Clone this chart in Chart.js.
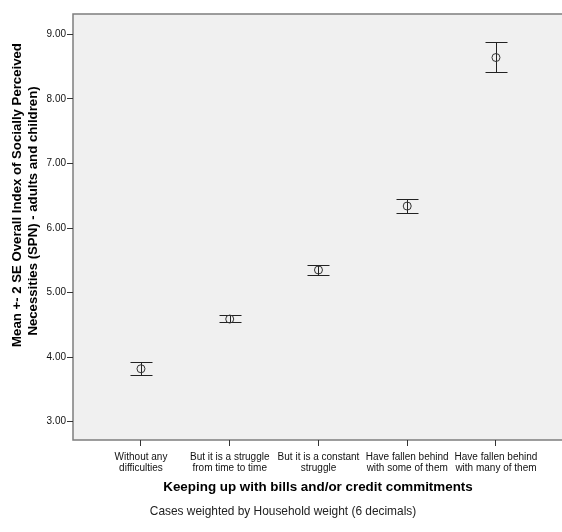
<!DOCTYPE html>
<html>
<head>
<meta charset="utf-8">
<script src="https://cdn.jsdelivr.net/npm/chart.js@4/dist/chart.umd.min.js"></script>
<style>
html,body{margin:0;padding:0;background:#fff;}
canvas{display:block;}
</style>
</head>
<body>
<canvas id="c" width="562" height="532"></canvas>
<script>
const categories = [
  ["Without any", "difficulties"],
  ["But it is a struggle", "from time to time"],
  ["But it is a constant", "struggle"],
  ["Have fallen behind", "with some of them"],
  ["Have fallen behind", "with many of them"]
];
const meanValues  = [3.82, 4.59, 5.35, 6.34, 8.64];
const upperValues = [3.925, 4.648, 5.422, 6.445, 8.876];
const lowerValues = [3.724, 4.540, 5.277, 6.237, 8.411];
const yTickValues = [3, 4, 5, 6, 7, 8, 9];
const yTitleLines = ["Mean +- 2 SE Overall Index of Socially Perceived", "Necessities (SPN) - adults and children)"];
const xTitle = "Keeping up with bills and/or credit commitments";
const caption = "Cases weighted by Household weight (6 decimals)";

const FONT = '"Liberation Sans", Arial, sans-serif';

const framePlugin = {
  id: 'frame',
  beforeDraw(chart) {
    const {ctx, chartArea: a} = chart;
    ctx.save();
    ctx.fillStyle = '#F0F0F0';
    ctx.fillRect(a.left, a.top, a.right - a.left + 4, a.bottom - a.top);
    ctx.strokeStyle = '#7d7d7d';
    ctx.lineWidth = 1.5;
    ctx.beginPath();
    ctx.moveTo(a.right + 4, a.top);
    ctx.lineTo(a.left, a.top);
    ctx.lineTo(a.left, a.bottom);
    ctx.lineTo(a.right + 4, a.bottom);
    ctx.stroke();
    ctx.restore();
  },
  beforeDatasetsDraw(chart) {
    const {ctx} = chart;
    const xs = chart.scales.x, ys = chart.scales.y;
    ctx.save();
    ctx.strokeStyle = '#222';
    ctx.lineWidth = 1;
    const half = 11;
    for (let i = 0; i < meanValues.length; i++) {
      const x = Math.round(xs.getPixelForValue(i)) + 0.5;
      const yu = Math.round(ys.getPixelForValue(upperValues[i])) + 0.5;
      const yl = Math.round(ys.getPixelForValue(lowerValues[i])) + 0.5;
      ctx.beginPath();
      ctx.moveTo(x, yu); ctx.lineTo(x, yl);
      ctx.moveTo(x - half, yu); ctx.lineTo(x + half, yu);
      ctx.moveTo(x - half, yl); ctx.lineTo(x + half, yl);
      ctx.stroke();
    }
    ctx.restore();
  },
  afterDraw(chart) {
    const {ctx} = chart;
    ctx.save();
    ctx.fillStyle = '#000';
    ctx.textAlign = 'center';
    ctx.textBaseline = 'middle';
    ctx.font = 'bold 13.2px ' + FONT;
    const pos = [[17, 195], [33, 211]];
    yTitleLines.forEach((t, i) => {
      ctx.save();
      ctx.translate(pos[i][0], pos[i][1]);
      ctx.rotate(-Math.PI / 2);
      ctx.fillText(t, 0, 0);
      ctx.restore();
    });
    ctx.font = 'bold 13.4px ' + FONT;
    ctx.fillText(xTitle, 318, 487);
    ctx.font = '11.9px ' + FONT;
    ctx.fillStyle = '#222';
    ctx.fillText(caption, 283, 512);
    ctx.restore();
  }
};

new Chart(document.getElementById('c'), {
  type: 'scatter',
  data: {
    datasets: [{
      data: meanValues.map((v, i) => ({x: i, y: v})),
      pointRadius: 4,
      pointHoverRadius: 4,
      borderColor: '#333',
      backgroundColor: 'rgba(0,0,0,0)',
      borderWidth: 1,
      showLine: false,
      clip: false
    }]
  },
  options: {
    responsive: false,
    animation: false,
    devicePixelRatio: 1,
    layout: {autoPadding: false, padding: {top: 14, left: 0, right: 0, bottom: 0}},
    plugins: {legend: {display: false}, tooltip: {enabled: false}},
    scales: {
      x: {
        type: 'linear',
        min: -0.766,
        max: 4.744,
        afterBuildTicks: s => { s.ticks = categories.map((c, i) => ({value: i})); },
        afterFit: s => { s.height = 92; s.paddingLeft = 0; s.paddingRight = 0; },
        ticks: {
          callback: (v, i) => categories[i],
          font: {family: FONT, size: 10, lineHeight: 1.1},
          color: '#111',
          padding: 6,
          maxRotation: 0,
          autoSkip: false
        },
        grid: {display: true, drawOnChartArea: false, drawTicks: true, tickLength: 6, tickColor: '#333'},
        border: {display: false}
      },
      y: {
        min: 2.717,
        max: 9.314,
        afterBuildTicks: s => { s.ticks = yTickValues.map(v => ({value: v})); },
        afterFit: s => { s.width = 73; s.paddingTop = 0; s.paddingBottom = 0; },
        ticks: {
          callback: v => Number(v).toFixed(2),
          font: {family: FONT, size: 10},
          color: '#111',
          padding: 1
        },
        grid: {display: true, drawOnChartArea: false, drawTicks: true, tickLength: 6, tickColor: '#333'},
        border: {display: false}
      }
    }
  },
  plugins: [framePlugin]
});
</script>
</body>
</html>
